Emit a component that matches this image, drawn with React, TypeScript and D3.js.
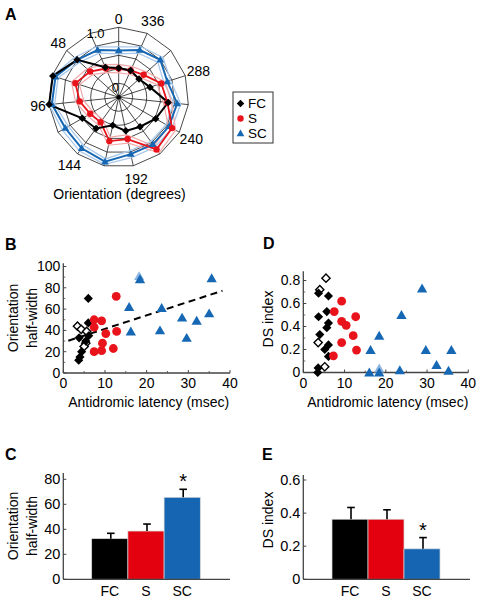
import React from "react";
import * as d3 from "d3";

const FONT = "Arial, 'Liberation Sans', Helvetica, sans-serif";
const RED = "#e8131b";
const BLUE = "#1768b4";
const LIGHT_BLUE = "#a9c9ec";
const LIGHT_RED = "#f3a9ab";
const AXIS = "#444";

// ---------- Panel A: polar tuning ----------
const orientations = [0, 24, 48, 72, 96, 120, 144, 168, 192, 216, 240, 264, 288, 312, 336];
const orientationLabels = [0, 48, 96, 144, 192, 240, 288, 336];
const fcTuning = [0.42, 0.47, 0.8, 0.99, 1.0, 0.6, 0.55, 0.41, 0.49, 0.52, 0.61, 0.71, 0.47, 0.39, 0.42];
const sTuning = [0.41, 0.45, 0.55, 0.65, 0.56, 0.47, 0.44, 0.64, 0.61, 0.92, 0.88, 0.7, 0.64, 0.48, 0.42];
const scTuning = [0.67, 0.74, 0.8, 0.95, 0.96, 0.88, 0.9, 0.94, 0.83, 0.83, 0.83, 0.84, 0.73, 0.8, 0.74];
const sSem = [0.06, 0.06, 0.06, 0.06, 0.06, 0.05, 0.05, 0.06, 0.06, 0.06, 0.06, 0.06, 0.06, 0.06, 0.06];
const scSem = [0.05, 0.05, 0.05, 0.04, 0.04, 0.05, 0.05, 0.04, 0.05, 0.05, 0.05, 0.05, 0.05, 0.05, 0.05];
const polarRings = [0.2, 0.4, 0.6, 0.8, 1.0];
const legendLabels = ["FC", "S", "SC"];

// ---------- Panel B: orientation half-width vs latency ----------
const bFcFilled = [[6.0, 70], [6.0, 47], [3.8, 33], [6.1, 35], [4.4, 20], [4.0, 15], [3.7, 12], [5.4, 30]];
const bFcOpen = [[3.4, 44], [4.3, 41], [5.6, 39], [5.4, 28], [5.0, 25]];
const bS = [[7.4, 50], [9.2, 49], [7.4, 43], [10.2, 37], [9.4, 28], [7.4, 20], [9.2, 21], [12, 23], [12.7, 72], [12.8, 39]];
const bSC = [[18.4, 88], [15.8, 62], [16.2, 39], [23.6, 61], [23.2, 40], [28.5, 52], [32, 49], [29.6, 33], [35, 56], [35.6, 89]];
const bSCLight = [[18.2, 91]];
const bFit = [[1.2, 30.3], [38.2, 77.2]];
const latencyTicks = [0, 10, 20, 30, 40];
const halfWidthTicks = [0, 20, 40, 60, 80, 100];

// ---------- Panel D: DS index vs latency ----------
const dFcFilled = [[3.7, 0.69], [6.1, 0.665], [5.7, 0.53], [3.7, 0.485], [6.1, 0.43], [5.7, 0.39], [4.0, 0.33], [6.1, 0.24], [5.2, 0.2], [6.1, 0.14], [3.6, 0.04], [3.5, 0.0]];
const dFcOpen = [[5.5, 0.82], [4.0, 0.72], [3.6, 0.26], [5.2, 0.05]];
const dS = [[9.3, 0.62], [7.5, 0.53], [12.7, 0.485], [9.3, 0.445], [10.4, 0.41], [12.1, 0.32], [9.3, 0.26], [12.9, 0.195], [7.3, 0.145]];
const dSC = [[28.8, 0.73], [23.8, 0.5], [18.4, 0.32], [16.3, 0.195], [29.7, 0.195], [35.9, 0.195], [16, 0.0], [18.4, 0.0], [23.4, 0.02], [32.3, 0.065], [35.2, 0.015]];
const dSCLight = [[18.4, 0.035]];
const dsTicks = [0, 0.2, 0.4, 0.6, 0.8];

// ---------- Panels C, E: bars ----------
const groups = ["FC", "S", "SC"];
const groupColors = ["#000000", "#e3000f", "#1565b2"];
const cMeans = [32.5, 38.6, 65.6];
const cSems = [4.3, 5.6, 6.4];
const cTicks = [0, 20, 40, 60, 80];
const eMeans = [0.363, 0.363, 0.184];
const eSems = [0.071, 0.057, 0.068];
const eTicks = [0, 0.2, 0.4, 0.6];
const cStars = [false, false, true];
const eStars = [false, false, true];

const diamondPath = (size: number) => d3.symbol(d3.symbolSquare, size)() as string;
const trianglePath = (size: number) => d3.symbol(d3.symbolTriangle, size)() as string;

function Marker({ kind, x, y, big }: { kind: string; x: number; y: number; big?: boolean }) {
  if (kind === "fc")
    return <path d={diamondPath(big ? 42 : 28)} transform={`translate(${x},${y}) rotate(45)`} fill="#000" />;
  if (kind === "fcOpen")
    return <path d={diamondPath(big ? 34 : 26)} transform={`translate(${x},${y}) rotate(45)`} fill="#fff" stroke="#000" strokeWidth={1.4} />;
  if (kind === "s") return <circle cx={x} cy={y} r={big ? 4.4 : 3.2} fill={RED} />;
  if (kind === "sc")
    return <path d={trianglePath(big ? 46 : 26)} transform={`translate(${x},${y + (big ? 1 : 0.5)})`} fill={BLUE} />;
  if (kind === "scLight")
    return <path d={trianglePath(big ? 46 : 26)} transform={`translate(${x},${y + 1})`} fill="#8db6e0" />;
  return null;
}

function PolarPanel() {
  const cx = 118.7, cy = 97.3, R = 70;
  const r = d3.scaleLinear().domain([0, 1]).range([0, R]);
  const rad = (deg: number) => (deg * Math.PI) / 180;
  const pt = (deg: number, v: number): [number, number] => [
    -r(v) * Math.sin(rad(deg)),
    -r(v) * Math.cos(rad(deg)),
  ];
  const line = d3
    .lineRadial<number>()
    .angle((_, i) => -rad(orientations[i]))
    .radius((v) => r(v))
    .curve(d3.curveLinearClosed);
  const grid = "#1a1a1a";
  return (
    <g transform={`translate(${cx},${cy})`}>
      {polarRings.map((v) =>
        v <= 0.4 ? (
          <circle key={v} r={r(v)} fill="none" stroke={grid} strokeWidth={0.8} />
        ) : (
          <path key={v} d={line(orientations.map(() => v)) as string} fill="none" stroke={grid} strokeWidth={0.8} />
        )
      )}
      {orientations.map((o) => {
        const [x, y] = pt(o, 1);
        return <line key={o} x1={0} y1={0} x2={x} y2={y} stroke={grid} strokeWidth={0.8} />;
      })}
      <circle r={2.2} fill="#000" />
      <path d={line(scTuning.map((v, i) => v + scSem[i])) as string} fill="none" stroke={LIGHT_BLUE} strokeWidth={1.3} />
      <path d={line(scTuning.map((v, i) => v - scSem[i])) as string} fill="none" stroke={LIGHT_BLUE} strokeWidth={1.3} />
      <path d={line(sTuning.map((v, i) => v + sSem[i])) as string} fill="none" stroke={LIGHT_RED} strokeWidth={1.2} />
      <path d={line(sTuning.map((v, i) => v - sSem[i])) as string} fill="none" stroke={LIGHT_RED} strokeWidth={1.2} />
      <path d={line(scTuning) as string} fill="none" stroke={BLUE} strokeWidth={2} />
      <path d={line(sTuning) as string} fill="none" stroke={RED} strokeWidth={1.8} />
      <path d={line(fcTuning) as string} fill="none" stroke="#000" strokeWidth={2} />
      {scTuning.map((v, i) => {
        const [x, y] = pt(orientations[i], v);
        return <Marker key={"sc" + i} kind="sc" x={x} y={y} />;
      })}
      {sTuning.map((v, i) => {
        const [x, y] = pt(orientations[i], v);
        return <Marker key={"s" + i} kind="s" x={x} y={y} />;
      })}
      {fcTuning.map((v, i) => {
        const [x, y] = pt(orientations[i], v);
        return <Marker key={"fc" + i} kind="fc" x={x} y={y} />;
      })}
      {orientationLabels.map((o) => {
        const txt = String(o);
        const rr = 76 + 2.6 * txt.length;
        const x = -rr * Math.sin(rad(o));
        const y = -rr * Math.cos(rad(o));
        return (
          <text key={o} x={x} y={y} dy="0.35em" textAnchor="middle" fontSize={14} fontFamily={FONT}>
            {txt}
          </text>
        );
      })}
      {[0, 1].map((v) => {
        const rr = 10 + 58 * v;
        const x = -rr * Math.sin(rad(20));
        const y = -rr * Math.cos(rad(20));
        return (
          <text key={"rl" + v} x={x} y={y} dy="0.35em" textAnchor="middle" fontSize={13} fontFamily={FONT}>
            {v === 0 ? "0" : "1.0"}
          </text>
        );
      })}
    </g>
  );
}

function Legend() {
  const x = 233, y = 92;
  const kinds = ["fc", "s", "sc"];
  return (
    <g>
      <rect x={x} y={y} width={40} height={51} fill="#fff" stroke="#333" strokeWidth={1} />
      {legendLabels.map((l, i) => {
        const yy = y + 11.5 + i * 15;
        return (
          <g key={l}>
            <Marker kind={kinds[i]} x={x + 7.5} y={yy} />
            <text x={x + 15} y={yy} dy="0.35em" fontSize={13.5} fontFamily={FONT}>
              {l}
            </text>
          </g>
        );
      })}
    </g>
  );
}

type Pt = number[];

function Scatter(props: {
  xr: [number, number];
  yr: [number, number];
  yDomain: [number, number];
  yTop: number;
  yTicks: number[];
  yFmt: (v: number) => string;
  yTitle: string[];
  yTitleX: number[];
  yTitleY: number;
  series: { kind: string; pts: Pt[] }[];
  fit?: Pt[];
}) {
  const x = d3.scaleLinear().domain([0, 40]).range(props.xr);
  const y = d3.scaleLinear().domain(props.yDomain).range(props.yr);
  const x0 = x(0), y0 = y(0);
  const yStep = props.yTicks[1] - props.yTicks[0];
  const yMinor = props.yTicks
    .map((t) => t + yStep / 2)
    .filter((v) => v <= props.yTop);
  const xMinor = latencyTicks.slice(0, -1).map((t) => t + 5);
  return (
    <g fontFamily={FONT}>
      <line x1={x0} x2={x(40)} y1={y0} y2={y0} stroke={AXIS} strokeWidth={1.3} />
      <line x1={x0} x2={x0} y1={y0} y2={y(props.yTop)} stroke={AXIS} strokeWidth={1.3} />
      {latencyTicks.map((t) => (
        <g key={"xt" + t}>
          <line x1={x(t)} x2={x(t)} y1={y0} y2={y0 - 3} stroke={AXIS} strokeWidth={1} />
          <text x={x(t)} y={y0 + 15} textAnchor="middle" fontSize={14}>
            {t}
          </text>
        </g>
      ))}
      {xMinor.map((t) => (
        <line key={"xm" + t} x1={x(t)} x2={x(t)} y1={y0} y2={y0 - 2} stroke={AXIS} strokeWidth={0.8} />
      ))}
      {props.yTicks.map((t) => (
        <g key={"yt" + t}>
          <line x1={x0} x2={x0 + 3} y1={y(t)} y2={y(t)} stroke={AXIS} strokeWidth={1} />
          <text x={x0 - 3} y={y(t)} dy="0.35em" textAnchor="end" fontSize={14}>
            {props.yFmt(t)}
          </text>
        </g>
      ))}
      {yMinor.map((t) => (
        <line key={"ym" + t} x1={x0} x2={x0 + 2} y1={y(t)} y2={y(t)} stroke={AXIS} strokeWidth={0.8} />
      ))}
      <text x={(x(0) + x(40)) / 2 + 2} y={y0 + 34} textAnchor="middle" fontSize={14}>
        Antidromic latency (msec)
      </text>
      {props.yTitle.map((t, i) => (
        <text
          key={t}
          transform={`translate(${props.yTitleX[i]},${props.yTitleY}) rotate(-90)`}
          textAnchor="middle"
          fontSize={14}
        >
          {t}
        </text>
      ))}
      {props.fit && (
        <line
          x1={x(props.fit[0][0])}
          y1={y(props.fit[0][1])}
          x2={x(props.fit[1][0])}
          y2={y(props.fit[1][1])}
          stroke="#000"
          strokeWidth={2}
          strokeDasharray="7,4.5"
        />
      )}
      {props.series.map((s, si) =>
        s.pts.map((p, i) => <Marker key={si + "-" + i} kind={s.kind} x={x(p[0])} y={y(p[1])} big />)
      )}
    </g>
  );
}

function Bars(props: {
  xr: [number, number];
  axisEnd: number;
  yr: [number, number];
  yDomain: [number, number];
  yTop: number;
  yTicks: number[];
  yFmt: (v: number) => string;
  means: number[];
  sems: number[];
  stars: boolean[];
  yTitle: string[];
  yTitleX: number[];
  yTitleY: number;
  axisX: number;
}) {
  const xb = d3.scaleBand<string>().domain(groups).range(props.xr).padding(0);
  const y = d3.scaleLinear().domain(props.yDomain).range(props.yr);
  const y0 = y(0);
  const ax = props.axisX;
  return (
    <g fontFamily={FONT}>
      {groups.map((g, i) => {
        const bx = xb(g) as number;
        const bw = xb.bandwidth();
        const top = y(props.means[i]);
        const et = y(props.means[i] + props.sems[i]);
        const cxm = bx + bw / 2 + 1;
        return (
          <g key={g}>
            <rect x={bx} y={top} width={bw} height={y0 - top} fill={groupColors[i]} stroke="#d8d8d8" strokeWidth={0.7} />
            <line x1={cxm} x2={cxm} y1={top} y2={et} stroke="#000" strokeWidth={1.6} />
            <line x1={cxm - 3.8} x2={cxm + 3.8} y1={et} y2={et} stroke="#000" strokeWidth={1.6} />
            {props.stars[i] && (
              <text x={cxm} y={et - 1} textAnchor="middle" fontSize={20}>
                *
              </text>
            )}
            <text x={bx + bw / 2} y={596} textAnchor="middle" fontSize={14}>
              {g}
            </text>
          </g>
        );
      })}
      <line x1={ax} x2={props.axisEnd} y1={y0} y2={y0} stroke={AXIS} strokeWidth={1.3} />
      <line x1={ax} x2={ax} y1={y0} y2={y(props.yTop)} stroke={AXIS} strokeWidth={1.3} />
      {props.yTicks.map((t) => (
        <g key={"t" + t}>
          <line x1={ax} x2={ax + 3} y1={y(t)} y2={y(t)} stroke={AXIS} strokeWidth={1} />
          <text x={ax - 3} y={y(t)} dy="0.35em" textAnchor="end" fontSize={14.5}>
            {props.yFmt(t)}
          </text>
        </g>
      ))}
      {props.yTitle.map((t, i) => (
        <text
          key={t}
          transform={`translate(${props.yTitleX[i]},${props.yTitleY}) rotate(-90)`}
          textAnchor="middle"
          fontSize={14}
        >
          {t}
        </text>
      ))}
    </g>
  );
}

const fmtDec = (v: number) => (v === 0 ? "0" : d3.format(".1f")(v));
const fmtInt = (v: number) => String(v);

export default function App() {
  return (
    <svg
      width={479}
      height={600}
      viewBox="0 0 479 600"
      style={{ position: "absolute", left: 0, top: 0, background: "#fff" }}
    >
      <rect width={479} height={600} fill="#fff" />
      <g fontFamily={FONT} fontWeight="bold" fontSize={16}>
        <text x={5} y={20}>A</text>
        <text x={5} y={250}>B</text>
        <text x={5} y={460}>C</text>
        <text x={263} y={249}>D</text>
        <text x={262} y={460}>E</text>
      </g>
      <PolarPanel />
      <Legend />
      <text x={119.5} y={199} textAnchor="middle" fontSize={14} fontFamily={FONT}>
        Orientation (degrees)
      </text>
      <Scatter
        xr={[63.3, 230]}
        yr={[373, 266.5]}
        yDomain={[0, 100]}
        yTop={103}
        yTicks={halfWidthTicks}
        yFmt={fmtInt}
        yTitle={["Orientation", "half-width"]}
        yTitleX={[18.3, 36.7]}
        yTitleY={318}
        fit={bFit}
        series={[
          { kind: "fcOpen", pts: bFcOpen },
          { kind: "fc", pts: bFcFilled },
          { kind: "s", pts: bS },
          { kind: "scLight", pts: bSCLight },
          { kind: "sc", pts: bSC },
        ]}
      />
      <Scatter
        xr={[303.3, 468.3]}
        yr={[372.5, 280.5]}
        yDomain={[0, 0.8]}
        yTop={0.88}
        yTicks={dsTicks}
        yFmt={fmtDec}
        yTitle={["DS index"]}
        yTitleX={[273.3]}
        yTitleY={319}
        series={[
          { kind: "fcOpen", pts: dFcOpen },
          { kind: "fc", pts: dFcFilled },
          { kind: "s", pts: dS },
          { kind: "scLight", pts: dSCLight },
          { kind: "sc", pts: dSC },
        ]}
      />
      <Bars
        xr={[91.7, 200.3]}
        axisX={63.3}
        axisEnd={230}
        yr={[579.3, 479.3]}
        yDomain={[0, 80]}
        yTop={85}
        yTicks={cTicks}
        yFmt={fmtInt}
        means={cMeans}
        sems={cSems}
        stars={cStars}
        yTitle={["Orientation", "half-width"]}
        yTitleX={[18.3, 36.7]}
        yTitleY={526}
      />
      <Bars
        xr={[332, 440]}
        axisX={303.3}
        axisEnd={470}
        yr={[579.3, 480]}
        yDomain={[0, 0.6]}
        yTop={0.63}
        yTicks={eTicks}
        yFmt={fmtDec}
        means={eMeans}
        sems={eSems}
        stars={eStars}
        yTitle={["DS index"]}
        yTitleX={[273.3]}
        yTitleY={520}
      />
    </svg>
  );
}
